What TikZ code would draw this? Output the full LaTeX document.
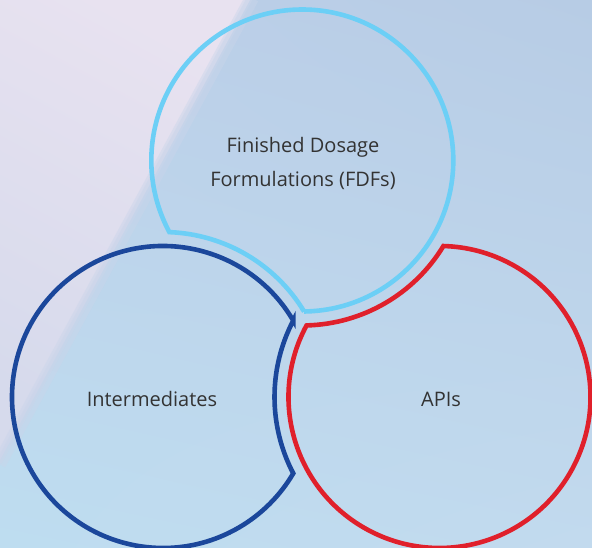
\documentclass[tikz,border=0pt]{standalone}
\usepackage{fontspec}
\setmainfont{Open Sans}
\usetikzlibrary{shadings}
\definecolor{cyanring}{HTML}{6CCFF6}
\definecolor{bluering}{HTML}{1B479B}
\definecolor{redring}{HTML}{E0202B}
\definecolor{txt}{HTML}{333333}
\definecolor{bgUL}{HTML}{BDD0E9}
\definecolor{bgUR}{HTML}{B7CCE5}
\definecolor{bgLL}{HTML}{BEDDF0}
\definecolor{bgLR}{HTML}{C2DAEE}
\definecolor{lavA}{HTML}{E8E2F0}
\definecolor{lavB}{HTML}{D6DAEC}
\definecolor{bandmix}{HTML}{CAD5EA}
\begin{document}
\begin{tikzpicture}[x=1pt,y=1pt,
  ring/.style={line width=4.6pt, line join=miter},
  label/.style={text=txt, align=center, font=\fontsize{20}{34}\selectfont, inner sep=0pt}]
\useasboundingbox (0,0) rectangle (592,548);
% background
\shade[upper left=bgUL, upper right=bgUR, lower left=bgLL, lower right=bgLR]
  (0,0) rectangle (592,548);
\shade[left color=lavA, right color=lavB, shading angle=-28.5]
  (0,548) -- (250,548) -- (0,88) -- cycle;
\begin{scope}
  \clip (0,0) rectangle (592,548);
  \draw[line width=14pt, draw=bandmix, opacity=0.45] (252,550) -- (-1,84);
  \draw[line width=6pt, draw=bandmix, opacity=0.5] (250,550) -- (-1,86);
\end{scope}
% top ring (FDFs), cut by the blue ring
\draw[ring, draw=cyanring] (304.12,236.51)
  arc[start angle=-89.31, end angle=208.32, radius=151]
  arc[start angle=87.79, end angle=31.21, radius=165] -- cycle;
% right ring (APIs), cut by the top ring
\draw[ring, draw=redring] (306.53,222.56)
  arc[start angle=151.72, end angle=448.52, radius=151]
  arc[start angle=-31.23, end angle=-88.53, radius=165] -- cycle;
% left ring (Intermediates), cut by the right ring
\draw[ring, draw=bluering] (293.25,227.39)
  arc[start angle=30.39, end angle=329.61, radius=151]
  arc[start angle=207.58, end angle=152.42, radius=165] -- cycle;
% labels
\node[label] (fdf) at (303,385) {Finished Dosage\\Formulations (FDFs)};
\node[label] (int) at (152,149) {Intermediates};
\node[label] (api) at (441,149) {APIs};
\end{tikzpicture}
\end{document}
